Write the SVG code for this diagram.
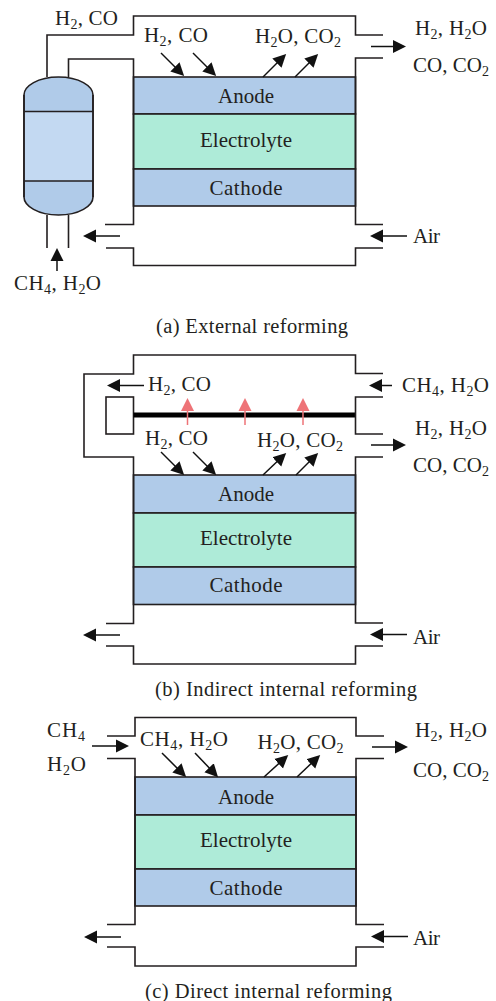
<svg xmlns="http://www.w3.org/2000/svg" width="496" height="1001" viewBox="0 0 496 1001">
<style>
text{font-family:"Liberation Serif","Times New Roman",serif;font-size:21px;fill:#231f20}
.c{text-anchor:middle}
.s{font-size:14px}
.cap{font-size:20.500px}
.p{fill:none;stroke:#231f20;stroke-width:1.6}
.l{stroke:#231f20;stroke-width:1.6;fill:#b0cbe9}
.g{stroke:#231f20;stroke-width:1.6;fill:#aeebd8}
.a{stroke:#111;stroke-width:1.5;fill:none;marker-end:url(#ah)}
.r{stroke:#ee7377;stroke-width:1.5;fill:none;marker-end:url(#rh)}
</style>
<defs>
<marker id="ah" markerUnits="userSpaceOnUse" markerWidth="16" markerHeight="16" refX="10" refY="7" orient="auto"><path d="M0,0.500L13,7L0,13.500Z" fill="#111"/></marker>
<marker id="rh" markerUnits="userSpaceOnUse" markerWidth="16" markerHeight="16" refX="10" refY="7" orient="auto"><path d="M0,0.500L13,7L0,13.500Z" fill="#ee7377"/></marker>
</defs>
<g id="reactor">
<path d="M24,95C24,86 38,77 58.500,77C79,77 93,86 93,95V197C93,206 79,215 58.500,215C38,215 24,206 24,197Z" fill="#b0cbe9" class="l"/>
<rect x="24.800" y="111.500" width="67.500" height="69.500" fill="#c3d9f2"/>
<path d="M24,111.500H93M24,181H93M24,95V197M93,95V197" class="p"/>
</g>
<g id="cell-a">
<rect x="133.500" y="77" width="222" height="37" class="l"/><rect x="133.500" y="114" width="222" height="55" class="g"/><rect x="133.500" y="169" width="222" height="37" class="l"/>
<text x="246" y="103" class="c" textLength="56">Anode</text><text x="246" y="147" class="c" textLength="92">Electrolyte</text><text x="246" y="195" class="c" textLength="73">Cathode</text>
</g>
<g id="cell-b">
<rect x="133.500" y="475" width="222" height="38" class="l"/><rect x="133.500" y="513" width="222" height="54" class="g"/><rect x="133.500" y="567" width="222" height="37.500" class="l"/>
<text x="246" y="501" class="c" textLength="56">Anode</text><text x="246" y="545" class="c" textLength="92">Electrolyte</text><text x="246" y="592" class="c" textLength="73">Cathode</text>
</g>
<g id="reformer-b">
<rect x="106" y="397" width="27.500" height="37" class="p"/>
<path d="M133.500,415H355.500" fill="none" stroke="#000" stroke-width="5"/>
</g>
<g id="cell-c">
<rect x="135" y="777" width="221" height="38" class="l"/><rect x="135" y="815" width="221" height="54" class="g"/><rect x="135" y="869" width="221" height="37" class="l"/>
<text x="246" y="804" class="c" textLength="56">Anode</text><text x="246" y="847" class="c" textLength="92">Electrolyte</text><text x="246" y="895" class="c" textLength="73">Cathode</text>
</g>
<g id="connectors">
<path class="p" d="M47,77V35H133.500V16H355.500V35H383"/>
<path class="p" d="M68.500,77V59H133.500V224.500H105"/>
<path class="p" d="M383,58H355.500V224.500H383"/>
<path class="p" d="M106,248H133.500V265.500H355.500V248H383"/>
<path class="p" d="M47,215V248M68.500,215V248"/>
<path class="a" d="M161,53L182,74"/><path class="a" d="M193,53L214,74"/><path class="a" d="M263,77L284,56"/><path class="a" d="M295,77L316,56"/>
<path class="a" d="M371,46.500H403"/><path class="a" d="M120,236H86"/><path class="a" d="M407,236H373"/><path class="a" d="M57,271V251"/>

<path class="p" d="M133.500,475V457H84V374H133.500V355H355.500V373.500H383"/>
<path class="p" d="M383,397H355.500V434H383"/>
<path class="p" d="M383,457H355.500V623H383"/>
<path class="p" d="M133.500,475V623.500H106"/>
<path class="p" d="M106,646H133.500V664H355.500V646H383"/>
<path class="a" d="M144,385.500H110"/><path class="a" d="M392,385.500H372"/><path class="a" d="M371,445H403"/>
<path class="a" d="M161,452L182,473"/><path class="a" d="M193,452L214,473"/><path class="a" d="M263,475L284,455"/><path class="a" d="M296,475L316,455"/>
<path class="r" d="M187.500,425V401"/><path class="r" d="M245,425V401"/><path class="r" d="M303,425V401"/>
<path class="a" d="M120,635H86"/><path class="a" d="M407,634.500H373"/>

<path class="p" d="M107,736H135V717.500H356V736H384"/>
<path class="p" d="M107,758.500H135V924.500H107"/>
<path class="p" d="M384,758.500H356V924.500H384"/>
<path class="p" d="M107,947H135V966H356V947H384"/>
<path class="a" d="M92,746H126"/><path class="a" d="M372,747H405"/>
<path class="a" d="M162,753L184,775"/><path class="a" d="M195,753L216,775"/><path class="a" d="M264,777L286,757"/><path class="a" d="M297,777L318,757"/>
<path class="a" d="M121,937H87"/><path class="a" d="M408,936.500H374"/>
</g>
<g id="labels">
<text x="55" y="25" textLength="63">H<tspan class="s" dy="4">2</tspan><tspan dy="-4">, CO</tspan></text>
<text x="144" y="42" textLength="64">H<tspan class="s" dy="4">2</tspan><tspan dy="-4">, CO</tspan></text>
<text x="255" y="43" textLength="86">H<tspan class="s" dy="4">2</tspan><tspan dy="-4">O, CO</tspan><tspan class="s" dy="4">2</tspan></text>
<text x="415" y="35" textLength="72">H<tspan class="s" dy="4">2</tspan><tspan dy="-4">, H</tspan><tspan class="s" dy="4">2</tspan><tspan dy="-4">O</tspan></text>
<text x="413" y="72" textLength="76">CO, CO<tspan class="s" dy="4">2</tspan></text>
<text x="14" y="290" textLength="87">CH<tspan class="s" dy="4">4</tspan><tspan dy="-4">, H</tspan><tspan class="s" dy="4">2</tspan><tspan dy="-4">O</tspan></text>
<text x="413" y="243" textLength="27">Air</text>
<text x="156" y="333" textLength="192" class="cap">(a) External reforming</text>

<text x="148" y="391" textLength="63">H<tspan class="s" dy="4">2</tspan><tspan dy="-4">, CO</tspan></text>
<text x="145" y="445" textLength="63">H<tspan class="s" dy="4">2</tspan><tspan dy="-4">, CO</tspan></text>
<text x="257" y="447" textLength="86">H<tspan class="s" dy="4">2</tspan><tspan dy="-4">O, CO</tspan><tspan class="s" dy="4">2</tspan></text>
<text x="402" y="392" textLength="87">CH<tspan class="s" dy="4">4</tspan><tspan dy="-4">, H</tspan><tspan class="s" dy="4">2</tspan><tspan dy="-4">O</tspan></text>
<text x="415" y="435" textLength="72">H<tspan class="s" dy="4">2</tspan><tspan dy="-4">, H</tspan><tspan class="s" dy="4">2</tspan><tspan dy="-4">O</tspan></text>
<text x="413" y="472" textLength="76">CO, CO<tspan class="s" dy="4">2</tspan></text>
<text x="413" y="644" textLength="27">Air</text>
<text x="155" y="696" textLength="262" class="cap">(b) Indirect internal reforming</text>

<text x="47" y="737" textLength="38">CH<tspan class="s" dy="4">4</tspan></text>
<text x="47" y="771" textLength="39">H<tspan class="s" dy="4">2</tspan><tspan dy="-4">O</tspan></text>
<text x="140" y="746" textLength="88">CH<tspan class="s" dy="4">4</tspan><tspan dy="-4">, H</tspan><tspan class="s" dy="4">2</tspan><tspan dy="-4">O</tspan></text>
<text x="257.500" y="749" textLength="86">H<tspan class="s" dy="4">2</tspan><tspan dy="-4">O, CO</tspan><tspan class="s" dy="4">2</tspan></text>
<text x="415" y="737" textLength="72">H<tspan class="s" dy="4">2</tspan><tspan dy="-4">, H</tspan><tspan class="s" dy="4">2</tspan><tspan dy="-4">O</tspan></text>
<text x="413" y="777" textLength="76">CO, CO<tspan class="s" dy="4">2</tspan></text>
<text x="413" y="945" textLength="27">Air</text>
<text x="145" y="998" textLength="247" class="cap">(c) Direct internal reforming</text>
</g>
</svg>
